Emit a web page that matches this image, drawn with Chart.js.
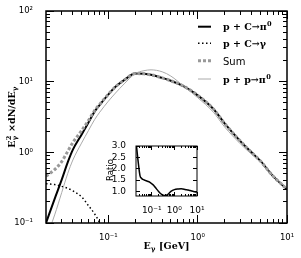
<!DOCTYPE html>
<html><head><meta charset="utf-8">
<script src="https://cdn.jsdelivr.net/npm/chart.js@4/dist/chart.umd.min.js"></script>
<style>
html,body{margin:0;padding:0;background:#fff;}
#wrap{position:relative;width:301px;height:258px;overflow:hidden;}
#main{position:absolute;left:0;top:0;}
#inset{position:absolute;left:100px;top:136px;}
#ticks{position:absolute;left:0;top:0;pointer-events:none;}
</style></head><body>
<div id="wrap">
<canvas id="main" width="301" height="258"></canvas>
<canvas id="inset" width="110" height="80"></canvas>
<canvas id="ticks" width="301" height="258"></canvas>
</div>
<script>
// ---- data ----
const energies = [0.02,0.025,0.03,0.035,0.04,0.05,0.06,0.07,0.08,0.1,0.12,0.15,0.2,0.25,0.3,0.4,0.5,0.7,1,1.5,2,3,4,5,7,10];
const pCpi0   = [0.10,0.22,0.41,0.72,1.09,1.78,2.67,3.77,4.7,6.6,8.45,10.5,13.0,12.9,12.5,11.3,10.3,8.6,6.4,4.1,2.57,1.44,1.0,0.76,0.46,0.30];
const pCgamma = [0.36,0.35,0.33,0.31,0.285,0.235,0.175,0.135,0.1,0.05,null,null,null,null,null,null,null,null,null,null,null,null,null,null,null,null];
const sumSpec = [0.46,0.57,0.74,1.03,1.38,2.02,2.85,3.9,4.8,6.65,8.47,10.5,13.0,12.9,12.5,11.3,10.3,8.6,6.4,4.1,2.57,1.44,1.0,0.76,0.46,0.30];
const ppPi0   = [0.06,0.13,0.27,0.5,0.78,1.35,2.05,2.9,3.7,5.3,6.9,9.3,13.0,14.3,14.7,13.8,12.0,8.6,5.93,3.69,2.29,1.32,0.94,0.73,0.46,0.31];
const ratio   = [3.2,2.3,1.7,1.58,1.53,1.49,1.46,1.44,1.41,1.34,1.27,1.15,1.0,0.9,0.85,0.82,0.86,1.0,1.08,1.11,1.12,1.09,1.06,1.04,1.0,0.97];

const seriesLabels = ['p + C→π', 'p + C→γ', 'Sum', 'p + p→π'];
const xTickValues = [0.1, 1, 10];
const xTickLabels = ['10⁻¹', '10⁰', '10¹'];
const yTickValues = [0.1, 1, 10, 100];
const yTickLabels = ['10⁻¹', '10⁰', '10¹', '10²'];
const ratioTickValues = [1.0, 1.5, 2.0, 2.5, 3.0];

const SANS = '"DejaVu Sans", sans-serif';
const SERIF = '"DejaVu Serif", serif';

function pts(arr){ return energies.map((e,i)=>({x:e, y:arr[i]})); }
function minorLog(min, max){
  const out=[];
  for (let d=-3; d<=3; d++) for (let m=2; m<=9; m++){ const v=m*Math.pow(10,d); if (v>=min*1.0001 && v<=max*0.9999) out.push(v); }
  return out;
}

function partWidth(ctx, p, size, fam, wt){
  if (p.n !== undefined){ ctx.font = `${wt} ${size}px ${fam}`; return ctx.measureText(p.n).width; }
  ctx.font = `${wt} ${size*0.7}px ${fam}`;
  const a = p.sup ? ctx.measureText(p.sup).width : 0;
  const b = p.sub ? ctx.measureText(p.sub).width : 0;
  return Math.max(a,b) + size*0.08;
}
function richWidth(ctx, parts, size, fam, wt){ return parts.reduce((s,p)=>s+partWidth(ctx,p,size,fam,wt),0); }
function drawRich(ctx, parts, x, y, size, fam, wt){
  ctx.textBaseline = 'alphabetic'; ctx.textAlign = 'left';
  for (const p of parts){
    const w = partWidth(ctx,p,size,fam,wt);
    if (p.n !== undefined){ ctx.font = `${wt} ${size}px ${fam}`; ctx.fillText(p.n, x, y); }
    else {
      ctx.font = `${wt} ${size*0.7}px ${fam}`;
      if (p.sup) ctx.fillText(p.sup, x+size*0.04, y - size*0.42);
      if (p.sub) ctx.fillText(p.sub, x+size*0.04, y + size*0.22);
    }
    x += w;
  }
}

const mainTickOpts = {xMajor:xTickValues, xMinor:minorLog(0.02,10), yMajor:yTickValues, yMinor:minorLog(0.1,100), majorLen:8, minorLen:4, frameWidth:1.5};
const insetTickOpts = {xMajor:xTickValues, xMinor:minorLog(0.02,10), yMajor:ratioTickValues, yMinor:[], majorLen:4, minorLen:2, frameWidth:1};

function drawFrame(chart, w){
  const ctx = chart.ctx, a = chart.chartArea;
  ctx.save();
  ctx.setLineDash([]);
  ctx.strokeStyle = '#000';
  ctx.lineWidth = w;
  ctx.strokeRect(a.left, a.top, a.right-a.left, a.bottom-a.top);
  ctx.restore();
}

// inward ticks, positioned through each chart's own scales, drawn on an overlay layer
function drawTicks(ctx, chart, o, ox, oy){
  const a = chart.chartArea, xs = chart.scales.x, ys = chart.scales.y;
  const L = Math.round(a.left)+ox, R = Math.round(a.right)+ox, T = Math.round(a.top)+oy, B = Math.round(a.bottom)+oy;
  ctx.fillStyle = '#000';
  [[o.xMajor,o.majorLen],[o.xMinor,o.minorLen]].forEach(function(pair){
    pair[0].forEach(function(v){
      const px = xs.getPixelForValue(v);
      if (!isFinite(px)) return;
      const p = Math.floor(px) + ox;
      ctx.fillRect(p, B - pair[1], 1, pair[1]);
      ctx.fillRect(p, T, 1, pair[1]);
    });
  });
  [[o.yMajor,o.majorLen],[o.yMinor,o.minorLen]].forEach(function(pair){
    pair[0].forEach(function(v){
      const py = ys.getPixelForValue(v);
      if (!isFinite(py)) return;
      const p = Math.floor(py) + oy;
      ctx.fillRect(L, p, pair[1], 1);
      ctx.fillRect(R - pair[1], p, pair[1], 1);
    });
  });
}

const mainDecor = {
  id: 'mainDecor',
  afterDraw(chart){
    drawFrame(chart, mainTickOpts.frameWidth);
    const ctx = chart.ctx, a = chart.chartArea;
    ctx.save();
    ctx.fillStyle = '#000';
    const xt = [{n:'E'},{sub:'γ'},{n:' [GeV]'}];
    const xw = richWidth(ctx, xt, 9.5, SERIF, 'bold');
    drawRich(ctx, xt, (a.left+a.right)/2 - xw/2, 249, 9.5, SERIF, 'bold');
    const yt = [{n:'E'},{sup:'2',sub:'γ'},{n:' ×dN/dE'},{sub:'γ'}];
    const yw = richWidth(ctx, yt, 9.5, SERIF, 'bold');
    ctx.translate(14.5, (a.top+a.bottom)/2);
    ctx.rotate(-Math.PI/2);
    drawRich(ctx, yt, -yw/2, 0, 9.5, SERIF, 'bold');
    ctx.restore();

    ctx.save();
    const rows = [26.7, 43.3, 60.7, 79];
    const styles = [
      {c:'#000', w:2, d:[]},
      {c:'#000', w:1.5, d:[1.5,2.5]},
      {c:'#999', w:3, d:[3,2]},
      {c:'#aaa', w:1, d:[]}
    ];
    const texts = [
      [{n:seriesLabels[0]},{sup:'0'}],
      [{n:seriesLabels[1]}],
      null,
      [{n:seriesLabels[3]},{sup:'0'}]
    ];
    rows.forEach((y,i)=>{
      const s = styles[i];
      ctx.strokeStyle = s.c; ctx.lineWidth = s.w; ctx.setLineDash(s.d);
      ctx.beginPath(); ctx.moveTo(198, y); ctx.lineTo(211, y); ctx.stroke();
      ctx.setLineDash([]);
      ctx.fillStyle = '#000';
      if (texts[i]) drawRich(ctx, texts[i], 223, y+3.5, 9.5, SERIF, 'bold');
      else { ctx.font = `10px ${SANS}`; ctx.textBaseline='alphabetic'; ctx.textAlign='left'; ctx.fillText(seriesLabels[i], 223, y+3.8); }
    });
    ctx.restore();
  }
};

const mainChart = new Chart(document.getElementById('main'), {
  type: 'line',
  data: {
    datasets: [
      {label: seriesLabels[3], data: pts(ppPi0), borderColor:'#aaa', borderWidth:1, pointRadius:0, cubicInterpolationMode:'monotone', fill:false},
      {label: seriesLabels[2], data: pts(sumSpec), borderColor:'#999', borderWidth:3, borderDash:[3,2], pointRadius:0, cubicInterpolationMode:'monotone', fill:false},
      {label: seriesLabels[0], data: pts(pCpi0), borderColor:'#000', borderWidth:2, pointRadius:0, cubicInterpolationMode:'monotone', fill:false},
      {label: seriesLabels[1], data: pts(pCgamma), borderColor:'#000', borderWidth:1.5, borderDash:[1.5,2.5], pointRadius:0, cubicInterpolationMode:'monotone', fill:false}
    ]
  },
  options: {
    responsive:false, animation:false, events:[],
    layout:{padding:{left:0, top:11, right:14, bottom:0}},
    plugins:{legend:{display:false}, tooltip:{enabled:false}},
    scales:{
      x:{type:'logarithmic', min:0.02, max:10, position:'bottom',
        afterBuildTicks:s=>{ s.ticks = xTickValues.map(v=>({value:v})); },
        afterFit:s=>{ s.height = 35; },
        grid:{display:false}, border:{display:false},
        ticks:{autoSkip:false, maxRotation:0, padding:2, color:'#000', font:{family:SANS, size:8.5}, callback:(v,i)=>xTickLabels[i]}},
      y:{type:'logarithmic', min:0.1, max:100,
        afterBuildTicks:s=>{ s.ticks = yTickValues.map(v=>({value:v})); },
        afterFit:s=>{ s.width = 46; },
        grid:{display:false}, border:{display:false},
        ticks:{autoSkip:false, padding:5, color:'#000', font:{family:SANS, size:8.5}, callback:(v,i)=>yTickLabels[i]}}
    }
  },
  plugins:[mainDecor]
});

const insetDecor = {
  id:'insetDecor',
  afterDraw(chart){
    drawFrame(chart, insetTickOpts.frameWidth);
    const ctx = chart.ctx;
    ctx.save();
    ctx.fillStyle = '#000';
    ctx.font = `8.5px ${SANS}`;
    ctx.textAlign = 'center'; ctx.textBaseline = 'middle';
    ctx.translate(10.5, 34);
    ctx.rotate(-Math.PI/2);
    ctx.fillText('Ratio', 0, 0);
    ctx.restore();
  }
};

const insetChart = new Chart(document.getElementById('inset'), {
  type:'line',
  data:{datasets:[{label:'Ratio', data: pts(ratio), borderColor:'#000', borderWidth:1.5, pointRadius:0, cubicInterpolationMode:'monotone', fill:false}]},
  options:{
    responsive:false, animation:false, events:[],
    layout:{padding:{left:0, top:10, right:13, bottom:0}},
    plugins:{legend:{display:false}, tooltip:{enabled:false}},
    scales:{
      x:{type:'logarithmic', min:0.02, max:10,
        afterBuildTicks:s=>{ s.ticks = xTickValues.map(v=>({value:v})); },
        afterFit:s=>{ s.height = 20; },
        grid:{display:false}, border:{display:false},
        ticks:{autoSkip:false, maxRotation:0, padding:1, color:'#000', font:{family:SANS, size:9}, callback:(v,i)=>xTickLabels[i]}},
      y:{type:'linear', min:0.8, max:3.0,
        afterBuildTicks:s=>{ s.ticks = ratioTickValues.map(v=>({value:v})); },
        afterFit:s=>{ s.width = 36; },
        grid:{display:false}, border:{display:false},
        ticks:{autoSkip:false, padding:2, color:'#000', font:{family:SANS, size:9}, callback:(v)=>Number(v).toFixed(1)}}
    }
  },
  plugins:[insetDecor]
});

function paintTicks(){
  const cv = document.getElementById('ticks');
  const c = cv.getContext('2d');
  c.clearRect(0, 0, cv.width, cv.height);
  drawTicks(c, mainChart, mainTickOpts, 0, 0);
  drawTicks(c, insetChart, insetTickOpts, 100, 136);
}
paintTicks();
setTimeout(paintTicks, 0);
</script>
</body></html>
